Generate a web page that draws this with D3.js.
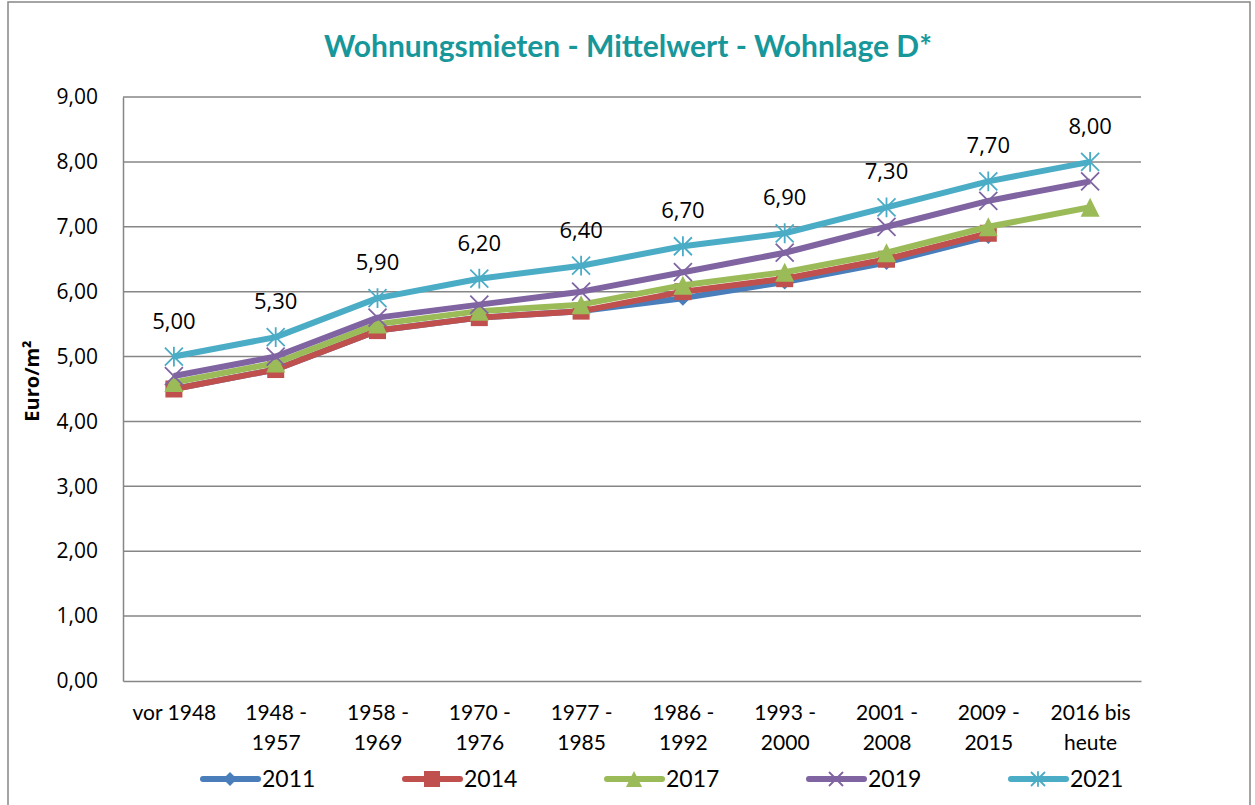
<!DOCTYPE html>
<html><head><meta charset="utf-8">
<script src="https://cdn.jsdelivr.net/npm/d3@7"></script>
<style>body{margin:0;background:#fff}</style>
</head><body>
<svg id="c" width="1255" height="805"></svg>
<script>
const categories = ["vor 1948","1948 -\n1957","1958 -\n1969","1970 -\n1976","1977 -\n1985","1986 -\n1992","1993 -\n2000","2001 -\n2008","2009 -\n2015","2016 bis\nheute"];
const s2011 = [4.5,4.8,5.4,5.6,5.7,5.9,6.15,6.45,6.85,null];
const s2014 = [4.5,4.8,5.4,5.6,5.7,6.0,6.2,6.5,6.9,null];
const s2017 = [4.6,4.9,5.5,5.7,5.8,6.1,6.3,6.6,7.0,7.3];
const s2019 = [4.7,5.0,5.6,5.8,6.0,6.3,6.6,7.0,7.4,7.7];
const s2021 = [5.0,5.3,5.9,6.2,6.4,6.7,6.9,7.3,7.7,8.0];
const seriesNames = ["2011","2014","2017","2019","2021"];
const yTicks = [0,1,2,3,4,5,6,7,8,9];

const colors = ["#4A7EBB","#C0504D","#9BBB59","#8064A2","#4BACC6"];
const markers = ["diamond","square","triangle","x","star"];
const seriesData = [s2011,s2014,s2017,s2019,s2021];

const svg = d3.select("#c");
const L=123,R=1141,T=97,B=681;
const x = d3.scalePoint().domain(categories).range([L,R]).padding(0.5);
const y = d3.scaleLinear().domain([0,9]).range([B,T]);
const fmt = v => d3.format(".2f")(v).replace(".",",");

// outer border
svg.append("rect").attr("x",8).attr("y",2).attr("width",1242).attr("height",830)
  .attr("fill","none").attr("stroke","#868686").attr("stroke-width",1.5);

// title
svg.append("text").attr("x",628).attr("y",57).attr("text-anchor","middle")
  .attr("font-family","Lato").attr("font-weight","bold").attr("font-size",30)
  .attr("fill","#17979A").text("Wohnungsmieten - Mittelwert - Wohnlage D*");

// gridlines
svg.append("g").selectAll("line").data(yTicks.filter(d=>d>0)).join("line")
  .attr("x1",L).attr("x2",R).attr("y1",d=>y(d)).attr("y2",d=>y(d))
  .attr("stroke","#868686").attr("stroke-width",1.5);

// axes
const yAxis = svg.append("g").attr("transform",`translate(${L},0)`)
  .call(d3.axisLeft(y).tickValues(yTicks).tickFormat(fmt).tickSize(0).tickPadding(25));
yAxis.select(".domain").attr("stroke","#868686").attr("stroke-width",1.5);
yAxis.selectAll("text").attr("font-family","Open Sans").attr("font-size",21).attr("fill","#000");

const xAxis = svg.append("g").attr("transform",`translate(0,${B})`)
  .call(d3.axisBottom(x).tickSize(0).tickFormat(""));
xAxis.select(".domain").attr("stroke","#868686").attr("stroke-width",1.5);
xAxis.selectAll(".tick").each(function(d){
  const t = d3.select(this).append("text").attr("text-anchor","middle")
    .attr("font-family","Lato").attr("font-size",21).attr("fill","#000");
  d.split("\n").forEach((ln,i)=>t.append("tspan").attr("x",0).attr("y",39+i*30).text(ln));
});

// y title
svg.append("text").attr("transform","translate(39,381) rotate(-90)").attr("text-anchor","middle")
  .attr("font-family","Open Sans").attr("font-weight","bold").attr("font-size",20)
  .text("Euro/m²");

function drawMarker(g, type, color, cx, cy, s){
  if(type==="diamond"){
    g.append("path").attr("d",`M${cx},${cy-s}L${cx+s},${cy}L${cx},${cy+s}L${cx-s},${cy}Z`).attr("fill",color);
  } else if(type==="square"){
    g.append("rect").attr("x",cx-s).attr("y",cy-s).attr("width",2*s).attr("height",2*s).attr("fill",color);
  } else if(type==="triangle"){
    g.append("path").attr("d",`M${cx},${cy-s}L${cx+s},${cy+s}L${cx-s},${cy+s}Z`).attr("fill",color);
  } else if(type==="x"){
    g.append("path").attr("d",`M${cx-s},${cy-s}L${cx+s},${cy+s}M${cx+s},${cy-s}L${cx-s},${cy+s}`)
      .attr("stroke",color).attr("stroke-width",1.8).attr("fill","none");
  } else {
    g.append("path").attr("d",`M${cx-s},${cy-s}L${cx+s},${cy+s}M${cx+s},${cy-s}L${cx-s},${cy+s}M${cx},${cy-s*1.1}L${cx},${cy+s*1.1}`)
      .attr("stroke",color).attr("stroke-width",1.8).attr("fill","none");
  }
}
const mSize=[7.5,8.5,9.5,9,9];

seriesData.forEach((vals,si)=>{
  const g = svg.append("g");
  const pts = vals.map((v,i)=>({c:categories[i],v})).filter(p=>p.v!=null);
  g.append("path").datum(pts)
    .attr("d",d3.line().x(p=>x(p.c)).y(p=>y(p.v)))
    .attr("fill","none").attr("stroke",colors[si]).attr("stroke-width",6).attr("stroke-linejoin","round");
  pts.forEach(p=>drawMarker(g,markers[si],colors[si],x(p.c),y(p.v),mSize[si]));
});

// data labels for 2021
svg.append("g").selectAll("text").data(s2021.map((v,i)=>({c:categories[i],v}))).join("text")
  .attr("x",p=>x(p.c)).attr("y",p=>y(p.v)-28).attr("text-anchor","middle")
  .attr("font-family","Open Sans").attr("font-size",22).attr("fill","#000")
  .text(p=>fmt(p.v));

// legend
const lg = svg.append("g");
seriesNames.forEach((n,i)=>{
  const x0 = 203 + i*202;
  lg.append("line").attr("x1",x0).attr("x2",x0+55).attr("y1",779).attr("y2",779)
    .attr("stroke",colors[i]).attr("stroke-width",6).attr("stroke-linecap","round");
  drawMarker(lg,markers[i],colors[i],x0+27,779,[7,8,8,7,7][i]);
  lg.append("text").attr("x",x0+59).attr("y",787).attr("font-family","Lato")
    .attr("font-size",23).text(n);
});
</script>
</body></html>
